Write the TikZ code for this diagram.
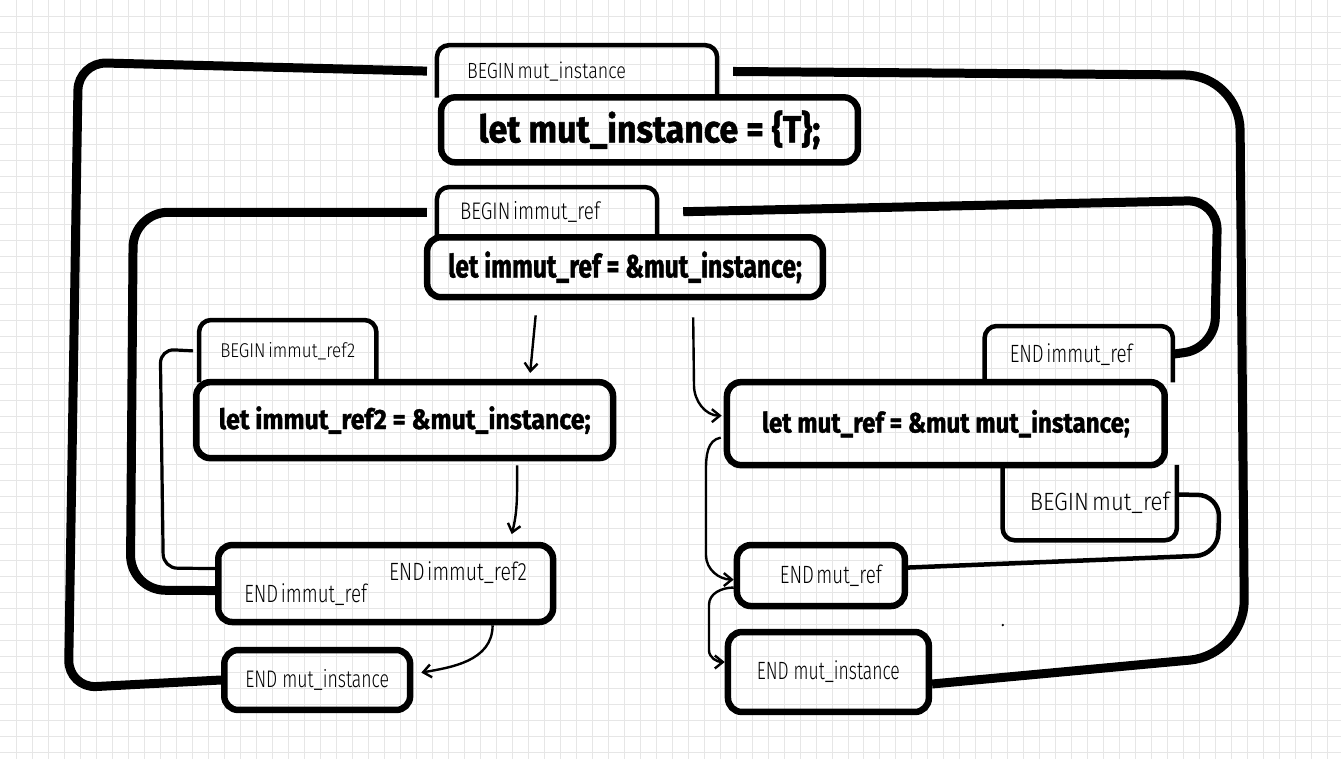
\documentclass[tikz,border=0pt]{standalone}
\usepackage{fontspec}
\usepackage{graphicx}
\usetikzlibrary{arrows.meta,calc}
\newfontfamily\ltf{Fira Sans Light}
\newfontfamily\hvf{Fira Sans Bold}[FakeBold=1.5]
\newcommand{\LT}[3]{\resizebox{#2pt}{\height}{\ltf\fontsize{#1pt}{#1pt}\selectfont #3}}
\newcommand{\HV}[3]{\resizebox{#2pt}{\height}{\hvf\fontsize{#1pt}{#1pt}\selectfont #3}}
\definecolor{gridc}{HTML}{E6E6E6}
\begin{document}
\begin{tikzpicture}[x=1pt,y=-1pt,
 box/.style={draw, line width=6.5pt, rounded corners=14pt, inner sep=0pt},
 tab/.style={inner ysep=0pt, align=left},
 tabline/.style={line width=4.5pt, rounded corners=12pt},
 loopl/.style={line width=9pt, rounded corners=35pt},
 midl/.style={line width=4.5pt, rounded corners=22pt},
 thinl/.style={line width=3.2pt, rounded corners=14pt},
 arr/.style={line width=2.4pt, -{Straight Barb[length=8pt,width=13pt]}}]
\fill[white] (0,0) rectangle (1341,759);
\foreach \i in {16,32,...,1336} \draw[gridc, line width=0.8pt] (\i,0) -- (\i,759);
\foreach \j in {16,32,...,752} \draw[gridc, line width=0.8pt] (0,\j) -- (1341,\j);
\useasboundingbox (0,0) rectangle (1341,759);

% nodes
\node[tab, minimum width=280pt, minimum height=52pt, text width=220pt, inner xsep=30pt] (bmi) at (577,71) {\LT{22}{159}{BEGIN mut\_instance}};
\node[box, minimum width=417pt, minimum height=65pt] (lmi) at (649.5,129.5) {\HV{38}{342}{let mut\_instance = \{T\};}};
\node[tab, minimum width=220pt, minimum height=50pt, text width=174pt, inner xsep=23pt] (bir) at (547,212) {\LT{24}{140}{BEGIN immut\_ref}};
\node[box, minimum width=396pt, minimum height=60pt] (lir) at (625,267) {\HV{32}{354}{let immut\_ref = \&mut\_instance;}};
\node[tab, minimum width=177pt, minimum height=62pt, text width=135pt, inner xsep=21pt] (bir2) at (287.5,351) {\LT{20}{135}{BEGIN immut\_ref2}};
\node[box, minimum width=417pt, minimum height=76pt] (lir2) at (404.5,420) {\HV{28}{372}{let immut\_ref2 = \&mut\_instance;}};
\node[tab, minimum width=188pt, minimum height=56pt, text width=138pt, inner xsep=25pt] (eir) at (1079,354) {\LT{25}{123}{END immut\_ref}};
\node[box, minimum width=438pt, minimum height=83pt] (lmr) at (946,423.5) {\HV{28}{368}{let mut\_ref = \&mut mut\_instance;}};
\node[tab, align=right, minimum width=174pt, minimum height=75pt, text width=160pt, inner xsep=7pt] (bmr) at (1090,502.5) {\LT{25}{140}{BEGIN mut\_ref}};
\node[box, align=right, minimum width=168pt, minimum height=61pt, text width=122pt, inner xsep=23pt] (emr) at (821,575.5) {\LT{25}{102}{END mut\_ref}};
\node[box, minimum width=201pt, minimum height=80pt] (emi2) at (828.5,672) {\LT{25}{143}{END mut\_instance}};
\node[box, align=left, minimum width=335pt, minimum height=77pt, text width=283pt, inner xsep=26pt] (eb) at (385.5,583.5) {\hfill\LT{25}{138}{END immut\_ref2}\\\LT{25}{123}{END immut\_ref}};
\node[box, minimum width=186pt, minimum height=60pt] (emi1) at (317,680) {\LT{24}{144}{END mut\_instance}};

% tabs
\draw[tabline] (bmi.south west) -- (bmi.north west) -- (bmi.north east) -- (bmi.south east);
\draw[tabline] (bir.south west) -- (bir.north west) -- (bir.north east) -- (bir.south east);
\draw[tabline] (bir2.south west) -- (bir2.north west) -- (bir2.north east) -- (bir2.south east);
\draw[tabline] (eir.south west) -- (eir.north west) -- (eir.north east) -- (eir.south east);
\draw[tabline] (bmr.north west) -- (bmr.south west) -- (bmr.south east) -- (bmr.north east);

% loops
\draw[loopl, rounded corners=28pt, shorten <=10pt] (bmi.west) -- (78,62) -- (68,688) -- (emi1.west);
\draw[loopl, rounded corners=55pt, shorten <=16pt] (bmi.east) -- (1240,75) -- (1245,655) -- ($(emi2.east)+(0,12)$);
\draw[loopl, shorten <=10pt] (bir.west) -- (133,212) -- (130,590) -- ($(eb.west)+(0,7)$);
\draw[loopl, rounded corners=30pt, shorten <=26pt] (bir.east) -- (1218,200) -- (1215,348) -- (eir.east);
\draw[thinl, shorten <=6pt] (bir2.west) -- (160,349) -- (163,568) -- ($(eb.west)+(0,-15)$);
\draw[midl] ($(bmr.east)+(0,-8)$) -- (1220,495) -- (1218,555) -- ($(emr.east)+(0,-8)$);

% arrows
\draw[arr, shorten <=15pt, shorten >=6pt] ($(lir.south)+(-88,0)$) -- ($(lir2.north)+(125,0)$);
\draw[arr, shorten <=17pt] ($(lir.south)+(68,0)$) -- (694,385) to[out=-90,in=180] ($(lmr.west)+(-2,-8)$);
\draw[arr, shorten <=4pt, shorten >=8pt] ($(lir2.south)+(112.5,0)$) to[out=-90,in=75] ($(eb.north)+(124,0)$);
\draw[arr, shorten >=8pt] ($(eb.south)+(107,0)$) to[out=-90,in=10] ($(emi1.east)+(0,-6)$);
\draw[arr] ($(lmr.west)+(-3,14)$) to[out=190,in=90] (706,470) -- (706,555) to[out=-90,in=180] ($(emr.west)+(0,4)$);
\draw[arr] ($(emr.west)+(0,12)$) to[out=180,in=90] (709,605) -- (709,650) to[out=-90,in=180] ($(emi2.west)+(0,-10)$);

\fill (1003,625) circle (1.3pt);
\end{tikzpicture}
\end{document}
